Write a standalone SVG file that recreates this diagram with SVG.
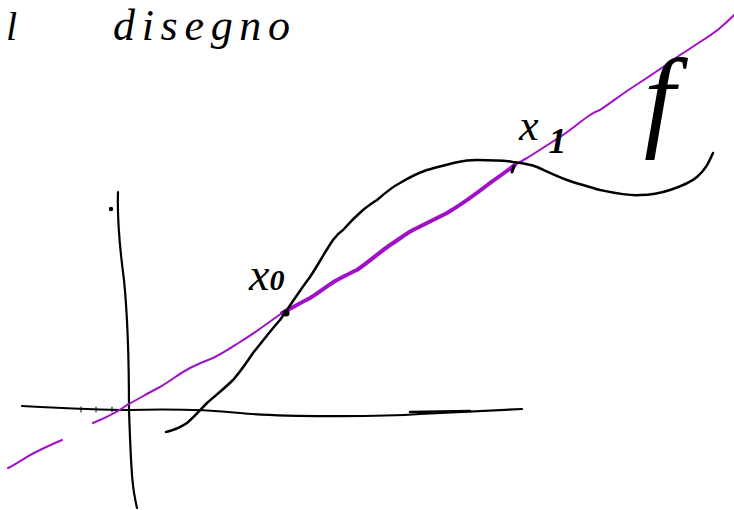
<svg xmlns="http://www.w3.org/2000/svg" width="734" height="510" viewBox="0 0 734 510">
<style>
.ink{fill:none;stroke:#000;stroke-linecap:round;stroke-linejoin:round}
.sec{fill:none;stroke:#a010c8;stroke-linecap:round;stroke-linejoin:round}
.hand{font-family:"Liberation Serif",serif;font-style:italic;fill:#000}
</style>
<rect width="734" height="510" fill="#fff"/>
<g id="title">
<text class="hand" x="6" y="40" font-size="40">l</text>
<text class="hand" x="113" y="40" font-size="44" textLength="177" lengthAdjust="spacing">disegno</text>
</g>
<g id="axes">
<path class="ink" stroke-width="2.2" d="M118,192 C117,220 120,250 124,280 C128,320 129,360 129,410 C130,440 131,470 133,485 C134,495 136,503 137,508"/>
<circle cx="111" cy="209" r="2.2" fill="#000"/>
<path class="ink" stroke-width="2.2" d="M22,406 C60,408 100,410 129,410 C165,409 200,409 240,413 C280,417 380,417 420,414 L522,409"/>
<path class="ink" stroke-width="2.5" d="M410,412 L470,411"/>
<path class="ink" stroke-width="1" d="M81,407 L81,412 M96,407 L96,412 M112,407 L112,412"/>
</g>
<g id="secant">
<path class="sec" stroke-width="2" d="M8,468 C20,462 30,454 40,450 C48,446 55,443 62,440"/>
<path class="sec" stroke-width="2" d="M93,423 C105,418 118,412 127,405 C140,398 150,392 160,387 C172,380 180,373 190,368 C198,364 205,361 213,358 C225,352 232,347 240,342 C255,333 265,325 282,313"/>
<path class="sec" stroke-width="4" d="M282,313 C292,308 300,303 310,298 C320,292 328,285 337,280 C345,276 350,273 357,270 C370,261 380,252 390,245 C400,239 405,234 413,230 C425,224 435,219 447,213 C462,204 476,194 490,183 C500,176 508,170 515,165"/>
<path class="sec" stroke-width="2" d="M515,165 C520,162 523,160 527,158 C540,150 552,142 563,135 C575,127 582,120 590,115 C594,112 597,111 600,110 C612,102 622,94 633,87 C650,76 665,66 680,55 C688,50 694,46 700,42 C708,37 714,33 720,28 C726,23 730,19 734,15"/>
</g>
<g id="curve-f">
<path class="ink" stroke-width="2.5" d="M166,432 C175,430 181,427 187,423 C195,416 200,410 207,403 C216,395 225,388 233,380 C240,372 247,362 253,353 C262,342 271,330 280,320 C290,306 300,290 310,277 C318,265 326,250 333,240 C336,236 340,232 343,230 C350,222 356,216 363,210 C368,206 372,203 377,200 C385,193 392,187 400,183 C410,177 418,173 427,170 C445,165 460,160 477,160 C490,160 502,160 513,162 C522,163 530,164 537,167 C548,172 556,176 567,180 C578,184 590,187 600,190 C615,193 628,196 640,195 C652,195 661,193 670,190 C682,186 690,183 697,177 C706,169 709,162 713,153"/>
<circle cx="286" cy="313" r="3.5" fill="#000"/>
<path class="ink" stroke-width="3" d="M512,172 L514,166"/>
</g>
<g id="labels">
<text class="hand" x="249" y="290" font-size="46">x<tspan font-size="30" font-weight="bold">0</tspan></text>
<text class="hand" x="519" y="140" font-size="44">x<tspan font-size="36" font-weight="bold" dx="10" dy="13">1</tspan></text>
<text class="hand" x="644" y="136" font-size="112">f</text>
</g>
</svg>
